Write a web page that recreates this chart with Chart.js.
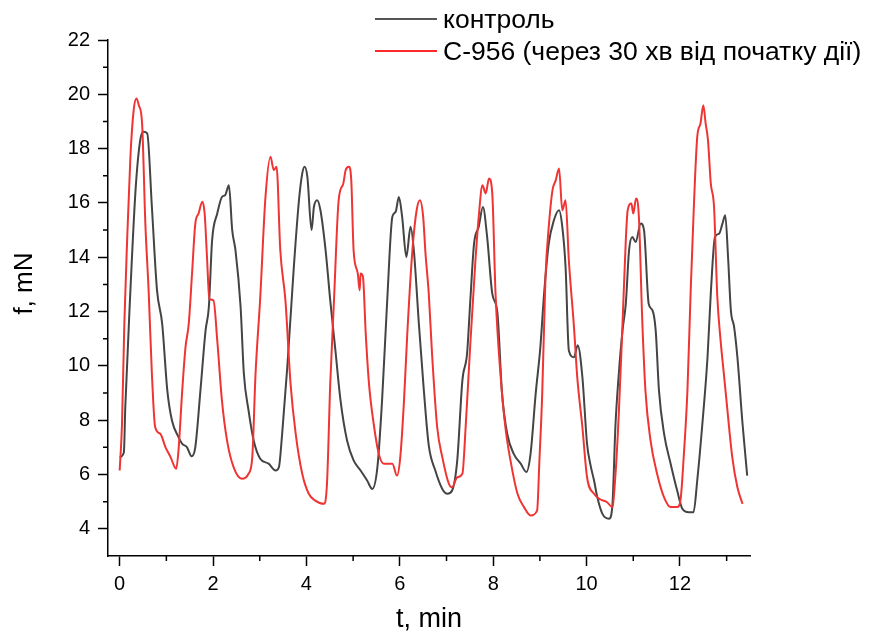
<!DOCTYPE html>
<html>
<head>
<meta charset="utf-8">
<script src="https://cdn.jsdelivr.net/npm/chart.js@4.4.1/dist/chart.umd.min.js"></script>
<style>
    html, body { margin: 0; padding: 0; background: #fff; }
    #wrap { position: relative; width: 873px; height: 634px; }
    #legend { position: absolute; left: 375px; top: 3px; font-family: 'Liberation Sans', Arial, sans-serif; font-size: 26.5px; color: #000; }
    .legend-row { display: flex; align-items: center; height: 32px; white-space: nowrap; }
    .legend-line { display: inline-block; width: 62px; height: 2px; margin-right: 6px; }
</style>
</head>
<body>
<div id="wrap">
    <canvas id="mainChart" width="873" height="634"></canvas>
    <div id="legend"></div>
</div>
<script>
// Force traces (t in min, f in mN)
const ctlT = [0.00, 0.09, 0.12, 0.23, 0.34, 0.44, 0.51, 0.59, 0.69, 0.80, 0.91, 1.02, 1.12, 1.26, 1.34, 1.44, 1.54, 1.62, 1.73, 1.84,
    1.91, 1.98, 2.09, 2.19, 2.26, 2.34, 2.41, 2.48, 2.59, 2.66, 2.76, 2.87, 3.01, 3.19, 3.34, 3.41, 3.48, 3.59, 3.73, 3.84,
    3.91, 3.96, 4.02, 4.11, 4.16, 4.23, 4.30, 4.41, 4.51, 4.62, 4.73, 4.87, 5.01, 5.16, 5.30, 5.41, 5.52, 5.62, 5.73, 5.84,
    5.91, 5.98, 6.05, 6.14, 6.23, 6.30, 6.41, 6.51, 6.62, 6.76, 6.91, 7.02, 7.12, 7.23, 7.34, 7.44, 7.51, 7.59, 7.69, 7.78,
    7.87, 7.98, 8.09, 8.19, 8.30, 8.44, 8.59, 8.71, 8.80, 8.91, 9.01, 9.09, 9.19, 9.30, 9.41, 9.48, 9.55, 9.62, 9.73, 9.81,
    9.91, 10.01, 10.09, 10.16, 10.23, 10.34, 10.48, 10.55, 10.62, 10.69, 10.77, 10.84, 10.91, 10.98, 11.05, 11.16, 11.23, 11.33, 11.41, 11.48,
    11.55, 11.66, 11.80, 11.94, 12.05, 12.19, 12.29, 12.37, 12.48, 12.59, 12.66, 12.75, 12.84, 12.91, 12.97, 13.03, 13.09, 13.16, 13.23, 13.34,
    13.44];
const ctlF = [6.64, 6.82, 8.48, 12.78, 16.47, 18.31, 18.62, 18.56, 15.85, 12.78, 11.56, 9.10, 7.99, 7.38, 7.13, 7.01, 6.67, 7.01, 9.10, 11.31,
    12.17, 14.63, 15.61, 16.22, 16.29, 16.65, 15.00, 14.26, 12.17, 9.71, 8.36, 7.25, 6.58, 6.40, 6.15, 6.27, 7.50, 9.96, 13.64, 16.10,
    17.08, 17.33, 16.96, 15.00, 15.85, 16.10, 15.73, 14.26, 12.41, 10.58, 8.73, 7.25, 6.52, 6.15, 5.78, 5.47, 6.27, 8.73, 12.41, 15.49,
    15.67, 16.22, 15.49, 14.01, 15.12, 14.26, 11.50, 9.20, 7.07, 6.15, 5.47, 5.29, 5.41, 6.52, 9.47, 10.45, 12.41, 14.50, 15.12, 15.85,
    14.75, 12.66, 11.95, 8.98, 7.50, 6.76, 6.40, 6.09, 6.76, 8.98, 10.69, 12.66, 14.50, 15.36, 15.73, 15.12, 13.64, 10.57, 10.32, 10.76,
    9.59, 7.13, 6.30, 5.78, 5.16, 4.55, 4.37, 4.80, 7.87, 9.71, 11.31, 12.29, 14.26, 14.75, 14.56, 15.24, 15.00, 12.29, 12.05, 11.31,
    9.10, 7.50, 6.40, 5.41, 4.74, 4.61, 4.61, 5.78, 7.87, 10.32, 12.66, 14.75, 14.87, 15.24, 15.55, 14.01, 12.05, 11.43, 10.32, 7.87,
    5.96];

const c956T = [0.00, 0.05, 0.10, 0.16, 0.23, 0.30, 0.36, 0.41, 0.48, 0.55, 0.62, 0.69, 0.76, 0.87, 0.98, 1.09, 1.21, 1.26, 1.34, 1.41,
    1.48, 1.55, 1.62, 1.69, 1.77, 1.82, 1.87, 1.92, 2.01, 2.09, 2.19, 2.30, 2.44, 2.62, 2.76, 2.84, 2.91, 3.01, 3.12, 3.23,
    3.30, 3.36, 3.44, 3.55, 3.66, 3.77, 3.91, 4.05, 4.19, 4.37, 4.44, 4.51, 4.59, 4.69, 4.79, 4.84, 4.91, 4.96, 5.01, 5.10,
    5.14, 5.16, 5.21, 5.27, 5.34, 5.44, 5.55, 5.66, 5.84, 5.94, 6.01, 6.09, 6.16, 6.27, 6.36, 6.43, 6.50, 6.55, 6.62, 6.69,
    6.80, 6.91, 7.05, 7.12, 7.23, 7.34, 7.41, 7.51, 7.62, 7.69, 7.77, 7.84, 7.91, 7.98, 8.05, 8.16, 8.26, 8.37, 8.52, 8.66,
    8.80, 8.94, 8.99, 9.05, 9.12, 9.19, 9.27, 9.34, 9.41, 9.48, 9.55, 9.62, 9.73, 9.80, 9.91, 10.01, 10.16, 10.30, 10.44, 10.55,
    10.62, 10.69, 10.77, 10.84, 10.88, 10.96, 11.00, 11.06, 11.12, 11.19, 11.26, 11.37, 11.51, 11.66, 11.80, 11.94, 12.01, 12.08, 12.16, 12.23,
    12.30, 12.37, 12.44, 12.50, 12.55, 12.60, 12.66, 12.73, 12.80, 12.87, 12.94, 13.01, 13.12, 13.23, 13.34];
const c956F = [6.15, 7.87, 11.56, 14.63, 17.70, 19.42, 19.85, 19.60, 18.93, 15.24, 12.78, 9.71, 7.75, 7.50, 7.01, 6.64, 6.21, 6.89, 9.10, 10.69,
    11.56, 13.40, 15.24, 15.61, 16.04, 15.61, 14.01, 12.48, 12.41, 10.94, 8.73, 7.25, 6.27, 5.84, 6.03, 6.64, 9.71, 12.50, 16.15, 17.70,
    17.21, 17.33, 14.26, 12.41, 9.34, 7.50, 6.03, 5.29, 5.04, 4.92, 5.66, 9.34, 12.41, 16.10, 16.72, 17.21, 17.33, 16.84, 14.26, 13.40,
    12.78, 13.40, 13.28, 11.19, 9.34, 7.87, 6.76, 6.40, 6.40, 5.96, 6.64, 8.73, 11.19, 14.26, 15.73, 16.10, 15.49, 14.14, 12.66, 10.45,
    7.75, 6.64, 5.66, 5.53, 5.90, 6.03, 7.75, 10.82, 13.89, 15.49, 16.65, 16.35, 16.90, 16.35, 12.66, 9.59, 7.75, 6.52, 5.29, 4.80,
    4.49, 4.67, 6.52, 8.98, 13.28, 15.12, 16.47, 16.84, 17.27, 15.73, 16.10, 13.89, 11.43, 9.59, 7.75, 5.90, 5.29, 5.08, 4.98, 4.80,
    6.03, 8.24, 11.56, 14.63, 15.73, 15.98, 15.61, 16.16, 15.49, 11.80, 9.10, 7.25, 6.03, 5.16, 4.80, 4.80, 5.04, 6.64, 9.10, 12.78,
    15.98, 18.43, 18.93, 19.60, 18.93, 18.31, 16.72, 15.85, 12.54, 10.94, 9.71, 8.48, 6.64, 5.53, 4.92];

const seriesLabels = ['контроль', 'С-956 (через 30 хв від початку дії)'];
const seriesColors = ['#444444', '#f03434'];
const xTicks = [0, 2, 4, 6, 8, 10, 12];
const xMinor = [1, 3, 5, 7, 9, 11, 13];
const yTicks = [4, 6, 8, 10, 12, 14, 16, 18, 20, 22];
const yMinor = [5, 7, 9, 11, 13, 15, 17, 19, 21];

const FONT = "'Liberation Sans', Arial, sans-serif";

function toPoints(ts, fs) {
    return ts.map((t, i) => ({ x: t, y: fs[i] }));
}

// Short minor ticks between the labelled ones
const minorTicks = {
    id: 'minorTicks',
    afterDraw(chart) {
        const { ctx, chartArea, scales } = chart;
        ctx.save();
        ctx.strokeStyle = '#000';
        ctx.lineWidth = 1.5;
        ctx.beginPath();
        xMinor.forEach(v => {
            const px = scales.x.getPixelForValue(v);
            ctx.moveTo(px, chartArea.bottom);
            ctx.lineTo(px, chartArea.bottom + 5);
        });
        yMinor.forEach(v => {
            const py = scales.y.getPixelForValue(v);
            ctx.moveTo(chartArea.left - 5, py);
            ctx.lineTo(chartArea.left, py);
        });
        ctx.stroke();
        ctx.restore();
    }
};

const ctx = document.getElementById('mainChart');
const chart = new Chart(ctx, {
    type: 'line',
    data: {
        datasets: [{
            label: seriesLabels[0],
            data: toPoints(ctlT, ctlF),
            borderColor: seriesColors[0],
            borderWidth: 2,
            pointRadius: 0,
            cubicInterpolationMode: 'monotone',
            order: 1
        }, {
            label: seriesLabels[1],
            data: toPoints(c956T, c956F),
            borderColor: seriesColors[1],
            borderWidth: 2,
            pointRadius: 0,
            cubicInterpolationMode: 'monotone',
            order: 0
        }]
    },
    options: {
        responsive: false,
        animation: false,
        devicePixelRatio: 1,
        layout: { padding: { top: 40, right: 123, left: 0, bottom: 0 } },
        plugins: {
            legend: { display: false },
            tooltip: { enabled: false }
        },
        scales: {
            x: {
                type: 'linear',
                min: -0.25,
                max: 13.5,
                afterFit: s => { s.height = 78; },
                afterBuildTicks: s => { s.ticks = xTicks.map(v => ({ value: v })); },
                grid: { drawOnChartArea: false, tickLength: 10, tickColor: '#000', tickWidth: 1.5 },
                border: { color: '#000', width: 1.5 },
                ticks: { color: '#000', padding: 6, maxRotation: 0, font: { family: FONT, size: 20 } },
                title: { display: true, text: 't, min', color: '#000', padding: { top: 0, bottom: -2 }, font: { family: FONT, size: 27 } }
            },
            y: {
                min: 3,
                max: 22,
                afterFit: s => { s.width = 108; },
                afterBuildTicks: s => { s.ticks = yTicks.map(v => ({ value: v })); },
                grid: { drawOnChartArea: false, tickLength: 10, tickColor: '#000', tickWidth: 1.5 },
                border: { color: '#000', width: 1.5 },
                ticks: { color: '#000', padding: 8, font: { family: FONT, size: 20 } },
                // leading spaces nudge the rotated title up, as in the original
                title: { display: true, text: '    f, mN', color: '#000', padding: { top: 9, bottom: 0 }, font: { family: FONT, size: 26 } }
            }
        }
    },
    plugins: [minorTicks]
});

// HTML legend built from the datasets
const legendEl = document.getElementById('legend');
chart.data.datasets.forEach((ds, i) => {
    const row = document.createElement('div');
    row.className = 'legend-row';
    const line = document.createElement('span');
    line.className = 'legend-line';
    line.style.backgroundColor = i === 0 ? '#555555' : '#ff2a2a';
    const txt = document.createElement('span');
    txt.textContent = ds.label;
    row.appendChild(line);
    row.appendChild(txt);
    legendEl.appendChild(row);
});
</script>
</body>
</html>
